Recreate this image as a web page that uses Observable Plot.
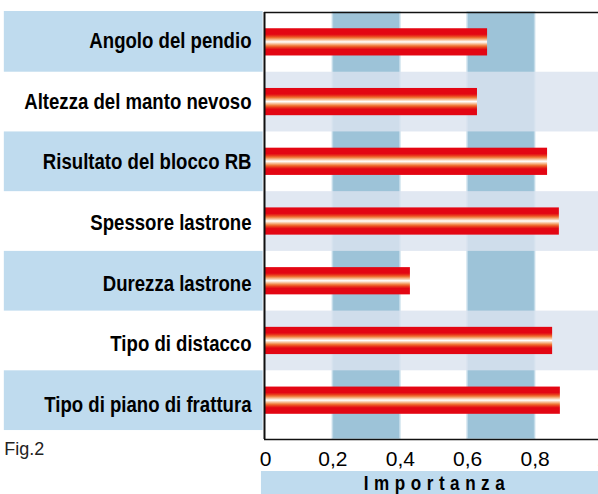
<!DOCTYPE html>
<html>
<head>
<meta charset="utf-8">
<script src="https://cdn.jsdelivr.net/npm/d3@7"></script>
<script src="https://cdn.jsdelivr.net/npm/@observablehq/plot@0.6"></script>
<style>
  html, body { margin: 0; padding: 0; background: #fff; }
</style>
</head>
<body>
<div id="chart"></div>
<script>
const labels = [
  "Angolo del pendio",
  "Altezza del manto nevoso",
  "Risultato del blocco RB",
  "Spessore lastrone",
  "Durezza lastrone",
  "Tipo di distacco",
  "Tipo di piano di frattura"
];
const values = [0.659, 0.629, 0.837, 0.872, 0.430, 0.852, 0.875];
const tickValues = [0, 0.2, 0.4, 0.6, 0.8, 1];
const tickLabels = ["0", "0,2", "0,4", "0,6", "0,8", "1"];
const columnBands = [[0.2, 0.4], [0.6, 0.8]];
const axisTitle = "Importanza";
const figLabel = "Fig.2";

const rows = labels.map((label, i) => ({label, value: values[i], i}));
const yMax = 7.15;
const sans = "'Liberation Sans', Arial, Helvetica, sans-serif";

const plot = Plot.plot({
  width: 598,
  height: 494,
  marginLeft: 265,
  marginRight: -4,
  marginTop: 12,
  marginBottom: 55,
  style: {fontFamily: sans, background: "#fff", color: "#000"},
  x: {domain: [0, 1], axis: null},
  y: {domain: [0, yMax], reverse: true, axis: null},
  marks: [
    // label backgrounds (odd rows)
    Plot.rect(rows.filter(d => d.i % 2 === 0), {
      x1: -0.775, x2: -0.007, y1: d => d.i - (d.i === 0 ? 0.017 : 0), y2: d => d.i + 1,
      fill: "#bfdbee", clip: false
    }),
    // column bands
    Plot.rect(columnBands, {
      x1: d => d[0], x2: d => d[1], y1: 0, y2: yMax,
      fill: "#9dc3d8", stroke: "#c2dae8", strokeWidth: 1.5
    }),
    // shaded alternate rows in plot area
    Plot.rect(rows.filter(d => d.i % 2 === 1), {
      x1: 0, x2: 1.02, y1: d => d.i, y2: d => d.i + 1,
      fill: "#dae3ef", fillOpacity: 0.82, clip: false
    }),
    // bars
    Plot.rect(rows, {
      x1: 0, x2: "value",
      y1: d => d.i + 0.5 - 0.228, y2: d => d.i + 0.5 + 0.228,
      fill: "url(#barGrad)"
    }),
    // frame lines
    Plot.ruleY([0], {x1: 0, x2: 1.02, stroke: "#111", strokeWidth: 1.5, clip: false, dx: -1}),
    Plot.ruleY([yMax], {x1: 0, x2: 1.02, stroke: "#111", strokeWidth: 1.5, clip: false, dx: -1}),
    Plot.ruleX([0], {y1: 0, y2: yMax, stroke: "#111", strokeWidth: 2, dx: -1}),
    // row labels
    Plot.text(rows, {
      x: 0, y: d => d.i + 0.475 + d.i * 0.0165, text: "label",
      textAnchor: "end", lineAnchor: "middle", dx: -14, dy: 0,
      fontSize: 22, fontWeight: "bold", fill: "#000", fontFamily: sans
    }),
    // x ticks
    Plot.text(tickValues, {
      x: d => d, text: (d, i) => tickLabels[i],
      frameAnchor: "bottom", lineAnchor: "middle", dy: 20, fontSize: 21, fill: "#000",
      fontFamily: sans, clip: false
    }),
    // axis title background
    Plot.rect([axisTitle], {
      x1: -0.012, x2: 1.02, y1: yMax + 0.536, y2: yMax + 1.0,
      fill: "#bfdbee", clip: false
    }),
    Plot.text([axisTitle], {
      x: 0.5, text: d => d, frameAnchor: "bottom", lineAnchor: "middle", dy: 44, dx: 3,
      fontSize: 21, fontWeight: "bold", fill: "#000", fontFamily: sans
    }),
    // figure label
    Plot.text([figLabel], {
      x: -0.775, text: d => d, frameAnchor: "bottom", lineAnchor: "middle", dy: 10,
      textAnchor: "start", fontSize: 18, fill: "#222",
      fontFamily: sans, clip: false
    })
  ]
});

const svg = d3.select(plot);
const defs = svg.insert("defs", ":first-child");
const grad = defs.append("linearGradient")
  .attr("id", "barGrad").attr("x1", 0).attr("y1", 0).attr("x2", 0).attr("y2", 1);
[
  [0, "#e30613"], [0.22, "#e30613"], [0.29, "#e83a1c"], [0.35, "#ee7434"],
  [0.42, "#f7b98e"], [0.5, "#ffffff"], [0.58, "#f7b98e"], [0.65, "#ee7434"],
  [0.71, "#e83a1c"], [0.78, "#e30613"], [1, "#e30613"]
].forEach(([o, c]) => grad.append("stop").attr("offset", o).attr("stop-color", c));

document.getElementById("chart").appendChild(plot);

// condense bold label glyphs horizontally (condensed typeface look)
const condense = 0.845;
svg.selectAll("text").each(function() {
  const t = this.textContent;
  if (labels.includes(t)) {
    const len = this.getComputedTextLength();
    this.setAttribute("textLength", len * condense);
    this.setAttribute("lengthAdjust", "spacingAndGlyphs");
  } else if (t === axisTitle) {
    this.style.letterSpacing = "6.8px";
    const len = this.getComputedTextLength();
    this.setAttribute("textLength", (len - 6.8) * condense);
    this.setAttribute("lengthAdjust", "spacingAndGlyphs");
  }
});
</script>
</body>
</html>
